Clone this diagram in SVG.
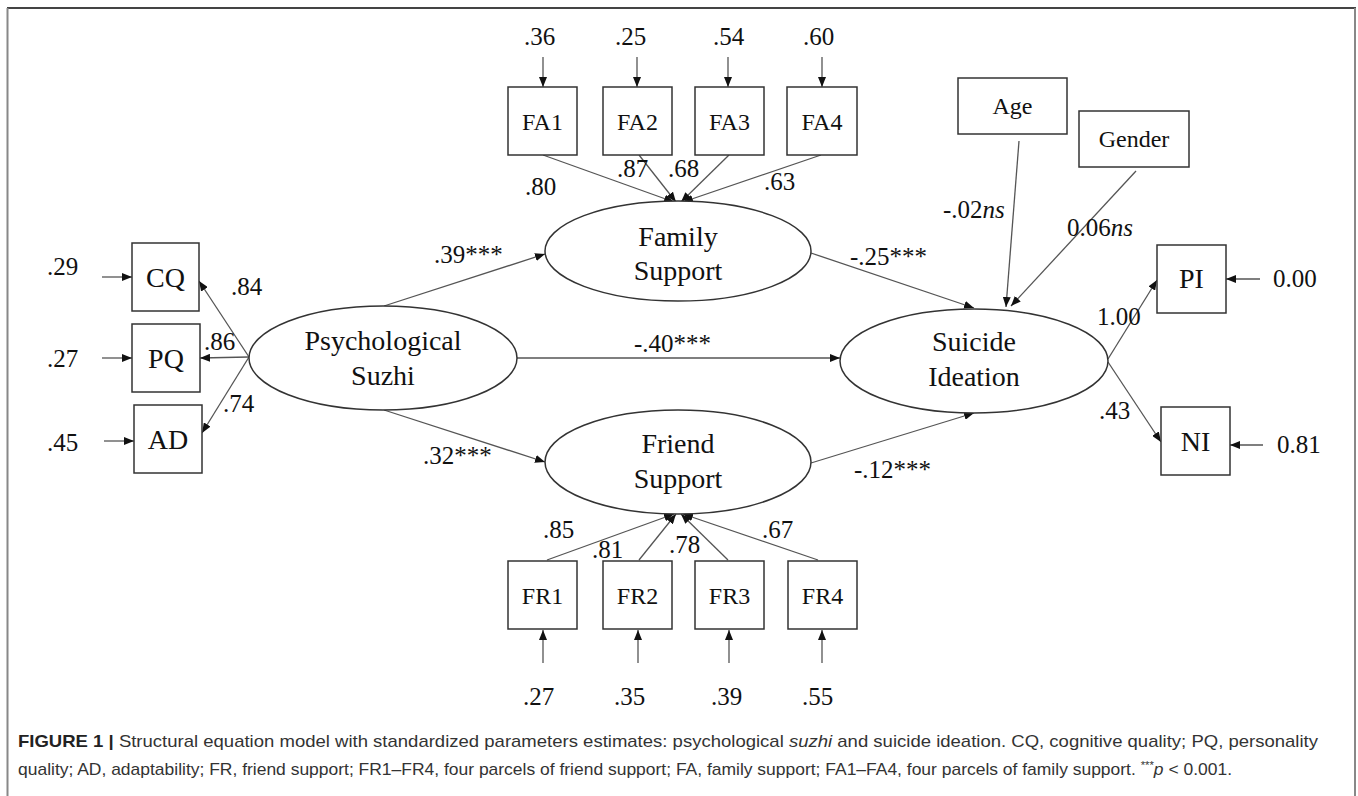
<svg xmlns="http://www.w3.org/2000/svg" width="1358" height="796" viewBox="0 0 1358 796">
<defs>
<marker id="ah" markerUnits="userSpaceOnUse" markerWidth="10" markerHeight="8" refX="10" refY="4" orient="auto">
<path d="M0,0 L10,4 L0,8 z" fill="#111"/>
</marker>
<style>
.box{fill:#fff;stroke:#333;stroke-width:1.5}
.ell{fill:#fff;stroke:#333;stroke-width:1.5}
.c{stroke:#555;stroke-width:1.3;fill:none;marker-end:url(#ah)}
.t{font-family:"Liberation Serif","Times New Roman",serif;fill:#111}
.n{font-size:25px}
.bl{font-size:28px;text-anchor:middle}
.bs{font-size:24px;text-anchor:middle}
.el{font-size:28px;text-anchor:middle}
.cap{font-family:"Liberation Sans",Arial,sans-serif;font-size:17px;fill:#333}
</style>
</defs>
<rect width="1358" height="796" fill="#fff"/>
<g id="frame">
<line x1="7" y1="8" x2="1356" y2="8" stroke="#444" stroke-width="2"/>
<line x1="7.5" y1="8" x2="7.5" y2="796" stroke="#888" stroke-width="2"/>
<line x1="1355" y1="8" x2="1355" y2="796" stroke="#888" stroke-width="2"/>
</g>
<g id="connectors">
<line class="c" x1="543" y1="57" x2="543" y2="87"/>
<line class="c" x1="637" y1="57" x2="637" y2="87"/>
<line class="c" x1="728" y1="57" x2="728" y2="87"/>
<line class="c" x1="822" y1="57" x2="822" y2="87"/>
<line class="c" x1="543" y1="155" x2="674" y2="202"/>
<line class="c" x1="639" y1="155" x2="676" y2="202"/>
<line class="c" x1="729" y1="155" x2="681" y2="202"/>
<line class="c" x1="821" y1="155" x2="683" y2="202"/>
<line class="c" x1="543" y1="663" x2="543" y2="630"/>
<line class="c" x1="638" y1="663" x2="638" y2="630"/>
<line class="c" x1="729" y1="663" x2="729" y2="630"/>
<line class="c" x1="822" y1="663" x2="822" y2="630"/>
<line class="c" x1="547" y1="560" x2="674" y2="514"/>
<line class="c" x1="639" y1="560" x2="676" y2="514"/>
<line class="c" x1="728" y1="560" x2="681" y2="514"/>
<line class="c" x1="818" y1="560" x2="683" y2="514"/>
<line class="c" x1="102" y1="277" x2="132" y2="277"/>
<line class="c" x1="102" y1="358" x2="132" y2="358"/>
<line class="c" x1="104" y1="441" x2="134" y2="441"/>
<line class="c" x1="249" y1="357" x2="199" y2="281"/>
<line class="c" x1="249" y1="357" x2="200" y2="358"/>
<line class="c" x1="249" y1="357" x2="202" y2="433"/>
<line class="c" x1="384" y1="306" x2="545" y2="254"/>
<line class="c" x1="384" y1="410" x2="545" y2="462"/>
<line class="c" x1="517" y1="358" x2="840" y2="358"/>
<line class="c" x1="811" y1="253" x2="974" y2="308"/>
<line class="c" x1="811" y1="463" x2="974" y2="413"/>
<line class="c" x1="1019" y1="141" x2="1006" y2="307"/>
<line class="c" x1="1136" y1="171" x2="1011" y2="306"/>
<line class="c" x1="1108" y1="359" x2="1157" y2="280"/>
<line class="c" x1="1108" y1="362" x2="1161" y2="442"/>
<line class="c" x1="1260" y1="279" x2="1226" y2="279"/>
<line class="c" x1="1263" y1="445" x2="1230" y2="445"/>
</g>
<g id="FA1"><rect class="box" x="508" y="87" width="69" height="68"/><text class="t bs" x="542.5" y="130">FA1</text></g>
<g id="FA2"><rect class="box" x="603" y="87" width="69" height="68"/><text class="t bs" x="637.5" y="130">FA2</text></g>
<g id="FA3"><rect class="box" x="695" y="87" width="69" height="68"/><text class="t bs" x="729.5" y="130">FA3</text></g>
<g id="FA4"><rect class="box" x="787" y="87" width="70" height="68"/><text class="t bs" x="822" y="130">FA4</text></g>
<g id="FR1"><rect class="box" x="508" y="561" width="69" height="68"/><text class="t bs" x="542.5" y="604">FR1</text></g>
<g id="FR2"><rect class="box" x="603" y="561" width="69" height="68"/><text class="t bs" x="637.5" y="604">FR2</text></g>
<g id="FR3"><rect class="box" x="695" y="561" width="69" height="68"/><text class="t bs" x="729.5" y="604">FR3</text></g>
<g id="FR4"><rect class="box" x="788" y="561" width="69" height="68"/><text class="t bs" x="822.5" y="604">FR4</text></g>
<g id="CQ"><rect class="box" x="132" y="243" width="67" height="68"/><text class="t bl" x="165.5" y="287">CQ</text></g>
<g id="PQ"><rect class="box" x="132" y="324" width="68" height="68"/><text class="t bl" x="166" y="368">PQ</text></g>
<g id="AD"><rect class="box" x="134" y="405" width="68" height="68"/><text class="t bl" x="168" y="449">AD</text></g>
<g id="Age"><rect class="box" x="958" y="78" width="109" height="56"/><text class="t bs" x="1012.5" y="114">Age</text></g>
<g id="Gender"><rect class="box" x="1079" y="111" width="110" height="56"/><text class="t bs" x="1134" y="147">Gender</text></g>
<g id="PI"><rect class="box" x="1157" y="245" width="69" height="68"/><text class="t bl" x="1191.5" y="288">PI</text></g>
<g id="NI"><rect class="box" x="1161" y="407" width="69" height="68"/><text class="t bl" x="1195.5" y="451">NI</text></g>
<g id="FamilySupport"><ellipse class="ell" cx="678" cy="251" rx="133" ry="50"/><text class="t el" x="678" y="246">Family</text><text class="t el" x="678" y="280">Support</text></g>
<g id="FriendSupport"><ellipse class="ell" cx="678" cy="462" rx="133" ry="52"/><text class="t el" x="678" y="453">Friend</text><text class="t el" x="678" y="488">Support</text></g>
<g id="PsychologicalSuzhi"><ellipse class="ell" cx="383" cy="358" rx="134" ry="52"/><text class="t el" x="383" y="350">Psychological</text><text class="t el" x="383" y="385">Suzhi</text></g>
<g id="SuicideIdeation"><ellipse class="ell" cx="974" cy="361" rx="134" ry="52"/><text class="t el" x="974" y="351">Suicide</text><text class="t el" x="974" y="386">Ideation</text></g>
<g id="labels">
<text class="t n" x="524" y="45">.36</text>
<text class="t n" x="615" y="45">.25</text>
<text class="t n" x="713" y="45">.54</text>
<text class="t n" x="803" y="45">.60</text>
<text class="t n" x="525" y="195">.80</text>
<text class="t n" x="617" y="177">.87</text>
<text class="t n" x="668" y="177">.68</text>
<text class="t n" x="764" y="190">.63</text>
<text class="t n" x="543" y="538">.85</text>
<text class="t n" x="592" y="558">.81</text>
<text class="t n" x="669" y="553">.78</text>
<text class="t n" x="762" y="538">.67</text>
<text class="t n" x="523" y="705">.27</text>
<text class="t n" x="614" y="705">.35</text>
<text class="t n" x="711" y="705">.39</text>
<text class="t n" x="802" y="705">.55</text>
<text class="t n" x="47" y="275">.29</text>
<text class="t n" x="47" y="367">.27</text>
<text class="t n" x="47" y="451">.45</text>
<text class="t n" x="231" y="295">.84</text>
<text class="t n" x="204" y="350">.86</text>
<text class="t n" x="223" y="412">.74</text>
<text class="t n" x="434" y="263">.39***</text>
<text class="t n" x="423" y="464">.32***</text>
<text class="t n" x="634" y="352">-.40***</text>
<text class="t n" x="850" y="265">-.25***</text>
<text class="t n" x="854" y="478">-.12***</text>
<text class="t n" x="943" y="218">-.02<tspan font-style="italic">ns</tspan></text>
<text class="t n" x="1067" y="236">0.06<tspan font-style="italic">ns</tspan></text>
<text class="t n" x="1097" y="325">1.00</text>
<text class="t n" x="1099" y="419">.43</text>
<text class="t n" x="1273" y="287">0.00</text>
<text class="t n" x="1277" y="453">0.81</text>
</g>
<g id="caption">
<text class="cap" x="18" y="747" textLength="1300" lengthAdjust="spacingAndGlyphs"><tspan font-weight="bold" fill="#222">FIGURE 1 |</tspan> Structural equation model with standardized parameters estimates: psychological <tspan font-style="italic">suzhi</tspan> and suicide ideation. CQ, cognitive quality; PQ, personality</text>
<text class="cap" x="18" y="775" textLength="1214" lengthAdjust="spacingAndGlyphs">quality; AD, adaptability; FR, friend support; FR1–FR4, four parcels of friend support; FA, family support; FA1–FA4, four parcels of family support. <tspan font-size="11px" dy="-6">***</tspan><tspan font-style="italic" dy="6">p</tspan> &lt; 0.001.</text>
</g>
</svg>
